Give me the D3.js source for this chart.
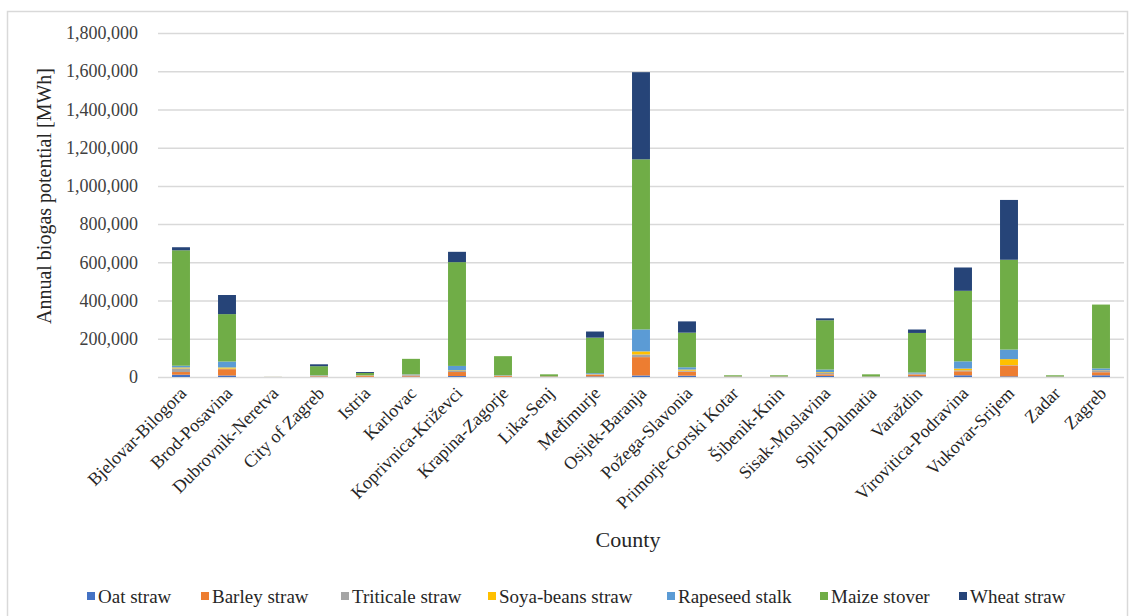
<!DOCTYPE html>
<html>
<head>
<meta charset="utf-8">
<title>Annual biogas potential by county</title>
<script src="https://d3js.org/d3.v7.min.js"></script>
<style>
    body { margin: 0; background: #fff; }
    .grid line { stroke: #d9d9d9; stroke-width: 1.5; }
</style>
</head>
<body>
<script>
    var serif = '"Liberation Serif", "Times New Roman", serif';

    // counties on the x axis
    var counties = ["Bjelovar-Bilogora", "Brod-Posavina", "Dubrovnik-Neretva", "City of Zagreb", "Istria",
        "Karlovac", "Koprivnica-Križevci", "Krapina-Zagorje", "Lika-Senj", "Međimurje", "Osijek-Baranja",
        "Požega-Slavonia", "Primorje-Gorski Kotar", "Šibenik-Knin", "Sisak-Moslavina", "Split-Dalmatia",
        "Varaždin", "Virovitica-Podravina", "Vukovar-Srijem", "Zadar", "Zagreb"];

    // MWh per county, one array per residue
    var oatStraw       = [12000, 8000, 200, 1000, 1000, 2000, 5000, 1000, 500, 3000, 8000, 7000, 500, 500, 6000, 500, 3500, 9000, 3500, 500, 9000];
    var barleyStraw    = [14000, 33000, 300, 3000, 6000, 5000, 21000, 5000, 2000, 9000, 96000, 21000, 1500, 1500, 8000, 1000, 10000, 21000, 57000, 1000, 16000];
    var triticaleStraw = [19000, 3000, 100, 4000, 1000, 6000, 6000, 2000, 1000, 2000, 14000, 5000, 1000, 1000, 7000, 1000, 3000, 5000, 2000, 1000, 10000];
    var soyaStraw      = [5000, 6000, 0, 500, 500, 0, 3000, 0, 0, 1000, 16000, 6000, 0, 0, 4000, 0, 1000, 9000, 31000, 0, 1000];
    var rapeseedStalk  = [9000, 31000, 0, 1000, 500, 1000, 23000, 1000, 500, 5000, 115000, 12000, 500, 500, 14000, 500, 6000, 38000, 50000, 500, 9000];
    var maizeStover    = [604000, 248000, 300, 47000, 12000, 81000, 543000, 100000, 10000, 186000, 890000, 181000, 5500, 5500, 258000, 11000, 207000, 369000, 470000, 6000, 334000];
    var wheatStraw     = [16000, 100000, 0, 10000, 5000, 0, 54000, 0, 0, 32000, 456000, 59000, 0, 0, 10000, 0, 18000, 122000, 313000, 0, 0];

    var seriesNames = ["Oat straw", "Barley straw", "Triticale straw", "Soya-beans straw", "Rapeseed stalk", "Maize stover", "Wheat straw"];
    var seriesValues = [oatStraw, barleyStraw, triticaleStraw, soyaStraw, rapeseedStalk, maizeStover, wheatStraw];
    var seriesColors = ["#4472c4", "#ed7d31", "#a5a5a5", "#ffc000", "#5b9bd5", "#70ad47", "#264478"];
    var yTicks = [0, 200000, 400000, 600000, 800000, 1000000, 1200000, 1400000, 1600000, 1800000];

    var width = 1135, height = 616;
    var plot = {left: 158, right: 1124, top: 33, bottom: 377};

    var svg = d3.select('body').append('svg')
        .attr('width', width)
        .attr('height', height)
        .style('font-family', serif);

    svg.append('rect')
        .attr('width', width).attr('height', height)
        .attr('fill', '#fff');

    // chart border
    svg.append('rect')
        .attr('x', 7.5).attr('y', 11.5)
        .attr('width', 1120).attr('height', 640)
        .attr('fill', 'none')
        .attr('stroke', '#d9d9d9')
        .attr('stroke-width', 1.5);

    // table for the stack
    var rows = counties.map(function(c, i) {
        var r = {county: c};
        seriesNames.forEach(function(s, k) { r[s] = seriesValues[k][i]; });
        return r;
    });
    var stacked = d3.stack().keys(seriesNames)(rows);

    var x = d3.scaleBand()
        .domain(counties)
        .range([plot.left, plot.right])
        .paddingInner(0.61)
        .paddingOuter(0.305);

    var y = d3.scaleLinear()
        .domain([0, 1800000])
        .range([plot.bottom, plot.top]);

    // gridlines + y labels
    var yAxis = svg.append('g')
        .attr('class', 'grid')
        .attr('transform', 'translate(' + plot.left + ',0)')
        .call(d3.axisLeft(y)
            .tickValues(yTicks)
            .tickSize(-(plot.right - plot.left))
            .tickPadding(20)
            .tickFormat(d3.format(',')));
    yAxis.select('.domain').remove();
    yAxis.attr('font-family', null).attr('font-size', null);
    yAxis.selectAll('.tick text')
        .attr('fill', '#404040')
        .style('font-family', serif)
        .style('font-size', '18px');

    // bars
    svg.append('g').selectAll('g')
        .data(stacked)
        .enter()
        .append('g')
        .attr('fill', function(d, i) { return seriesColors[i]; })
        .selectAll('rect')
        .data(function(d) { return d; })
        .enter()
        .append('rect')
        .attr('x', function(d) { return x(d.data.county); })
        .attr('y', function(d) { return y(d[1]); })
        .attr('width', x.bandwidth())
        .attr('height', function(d) { return Math.max(0, y(d[0]) - y(d[1])); });

    // x labels, rotated
    var xAxis = svg.append('g')
        .attr('transform', 'translate(0,' + plot.bottom + ')')
        .call(d3.axisBottom(x).tickSize(0).tickPadding(0));
    xAxis.select('.domain').remove();
    xAxis.attr('font-family', null).attr('font-size', null);
    xAxis.selectAll('.tick text')
        .attr('text-anchor', 'end')
        .attr('fill', '#262626')
        .attr('dy', '0.35em')
        .attr('transform', 'translate(2,13) rotate(-45)')
        .style('font-family', serif)
        .style('font-size', '18px');

    // axis titles
    svg.append('text')
        .attr('transform', 'translate(51,196) rotate(-90)')
        .attr('text-anchor', 'middle')
        .attr('fill', '#262626')
        .style('font-size', '20px')
        .text('Annual biogas potential [MWh]');

    svg.append('text')
        .attr('x', 628)
        .attr('y', 547)
        .attr('text-anchor', 'middle')
        .attr('fill', '#262626')
        .style('font-size', '22px')
        .text('County');

    // legend
    var legendX = [87, 201, 341, 488, 667, 820, 959];
    var legend = svg.append('g').selectAll('g')
        .data(seriesNames)
        .enter()
        .append('g')
        .attr('transform', function(d, i) { return 'translate(' + legendX[i] + ',596)'; });
    legend.append('rect')
        .attr('x', 0).attr('y', -4)
        .attr('width', 8).attr('height', 8)
        .attr('fill', function(d, i) { return seriesColors[i]; });
    legend.append('text')
        .attr('x', 11)
        .attr('dy', '0.35em')
        .attr('fill', '#262626')
        .style('font-size', '19px')
        .text(function(d) { return d; });
</script>
</body>
</html>
